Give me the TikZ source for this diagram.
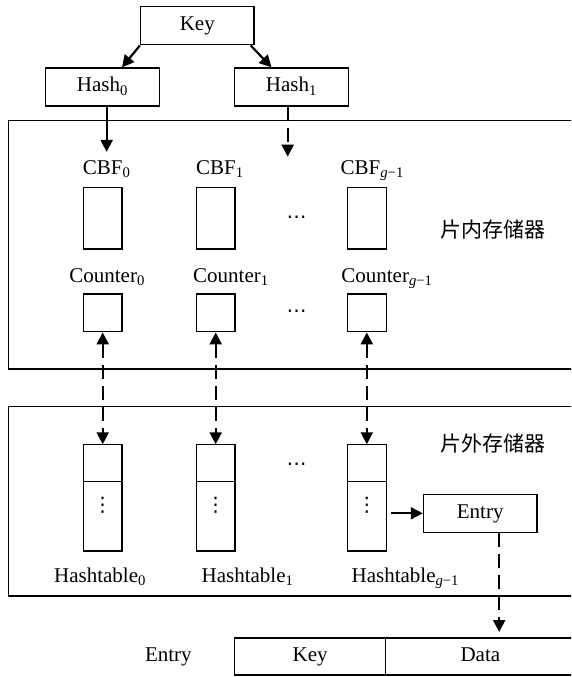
\documentclass[tikz,border=0pt]{standalone}
\usepackage{fontspec}
\setmainfont{Liberation Serif}
\newfontfamily\cjk{Noto Sans CJK SC}
\newfontfamily\symfont{DejaVu Sans}
\usetikzlibrary{positioning,arrows.meta}

\newcommand\gsub{\textsubscript{\textit{g}−1}}

\begin{document}
\begin{tikzpicture}[
    x=1pt, y=-1pt,
    >={Triangle[length=12pt,width=12pt]},
    font=\fontsize{21pt}{25pt}\selectfont,
    box/.style={draw, line width=1.3pt, minimum width=113.5pt, minimum height=38pt,
                inner sep=0pt, text height=14pt, text depth=4pt},
    cell/.style={box, outer sep=0pt, minimum height=37pt},
    cbf/.style={draw, line width=1.3pt, minimum width=38.7pt, minimum height=61.5pt, inner sep=0pt},
    ctr/.style={cbf, minimum height=37.7pt},
    htop/.style={cbf, minimum height=37.4pt, outer sep=0pt},
    hbot/.style={htop, minimum height=69.3pt},
    mem/.style={draw, line width=1.3pt, minimum width=566.7pt, inner sep=0pt},
    lab/.style={inner sep=0pt, anchor=base west},
    cjklab/.style={font=\cjk\fontsize{21pt}{25pt}\selectfont},
    dots/.style={inner sep=0pt, font=\symfont\fontsize{20pt}{24pt}\selectfont},
    link/.style={->, line width=2.2pt},
    dlink/.style={link, dash pattern=on 14pt off 7pt},
  ]
    \clip (0,0) rectangle (571,677);
    % memories
    \node[mem, minimum height=248.3pt] (onchip) at (291.65,244.85) {};
    \node[mem, minimum height=189.3pt] (offchip) at (291.65,501.35) {};
    \node[cjklab] (onlab) at (492.5,230) {片内存储器};
    \node[cjklab] (offlab) at (492.5,443.3) {片外存储器};

    \node[box] (key) at (197.3,25.8) {Key};
    \node[box] (hash0) at (102.5,87) {Hash\textsubscript{0}};
    \node[box] (hash1) at (291.5,87) {Hash\textsubscript{1}};

    % on-chip
    \node[lab] (cbflab0) at (82.7,174) {CBF\textsubscript{0}};
    \node[lab] (cbflab1) at (195.9,174) {CBF\textsubscript{1}};
    \node[lab] (cbflab2) at (340.5,174) {CBF\gsub};
    \node[cbf] (cbf0) at (102.7,218.2) {};
    \node[cbf] (cbf1) at (215.7,218.2) {};
    \node[cbf] (cbf2) at (366.8,218.2) {};
    \node[dots] (cbfdots) at (296.7,220) {⋯};

    \node[lab] (ctrlab0) at (69.2,282) {Counter\textsubscript{0}};
    \node[lab] (ctrlab1) at (193,282) {Counter\textsubscript{1}};
    \node[lab] (ctrlab2) at (341.2,282) {Counter\gsub};
    \node[ctr] (ctr0) at (102.7,312.9) {};
    \node[ctr] (ctr1) at (215.7,312.9) {};
    \node[ctr] (ctr2) at (366.8,312.9) {};
    \node[dots] (ctrdots) at (296.7,314) {⋯};

    % off-chip
    \node[htop] (htop0) at (102.7,463) {};
    \node[htop] (htop1) at (215.7,463) {};
    \node[htop] (htop2) at (366.8,463) {};
    \node[hbot, below=0pt of htop0] (hbot0) {};
    \node[hbot, below=0pt of htop1] (hbot1) {};
    \node[hbot, below=0pt of htop2] (hbot2) {};
    \node[dots] (vdots0) at ([yshift=11pt]hbot0.center) {⋮};
    \node[dots] (vdots1) at ([yshift=11pt]hbot1.center) {⋮};
    \node[dots] (vdots2) at ([yshift=11pt]hbot2.center) {⋮};
    \node[dots] (htdots) at (296.7,467) {⋯};
    \node[lab] (htlab0) at (53.9,582) {Hashtable\textsubscript{0}};
    \node[lab] (htlab1) at (201.4,582) {Hashtable\textsubscript{1}};
    \node[lab] (htlab2) at (351.4,582) {Hashtable\gsub};

    \node[box] (entry) at (480.2,513.3) {Entry};

    % entry layout
    \node[box, draw=none] (entrylab) at (168.4,656.5) {Entry};
    \node[cell, minimum width=151pt] (keycell) at (310.2,656.5) {Key};
    \node[cell, minimum width=189.3pt, right=0pt of keycell] (datacell) {Data};

    \coordinate (h1tip) at (287.7,156.7);
    \coordinate (drop) at ([xshift=19pt]entry.south);

    \draw[link] (key.south west) -- ([xshift=19.5pt]hash0.north);
    \draw[link] ([xshift=-4pt]key.south east) -- ([xshift=-20pt]hash1.north);
    \draw[link, shorten >=8pt] (hash0.south -| cbflab0.north) -- (cbflab0.north);
    \draw[dlink] (hash1.south -| h1tip) -- (h1tip);
    \draw[dlink, <->] (ctr0.south) -- (htop0.north);
    \draw[dlink, <->] (ctr1.south) -- (htop1.north);
    \draw[dlink, <->] (ctr2.south) -- (htop2.north);
    \draw[link, line width=1.8pt, shorten <=5pt] (hbot2.east |- entry.west) -- (entry.west);
    \draw[dlink, shorten >=6pt] (drop) -- (drop |- keycell.north);
  \end{tikzpicture}
\end{document}
